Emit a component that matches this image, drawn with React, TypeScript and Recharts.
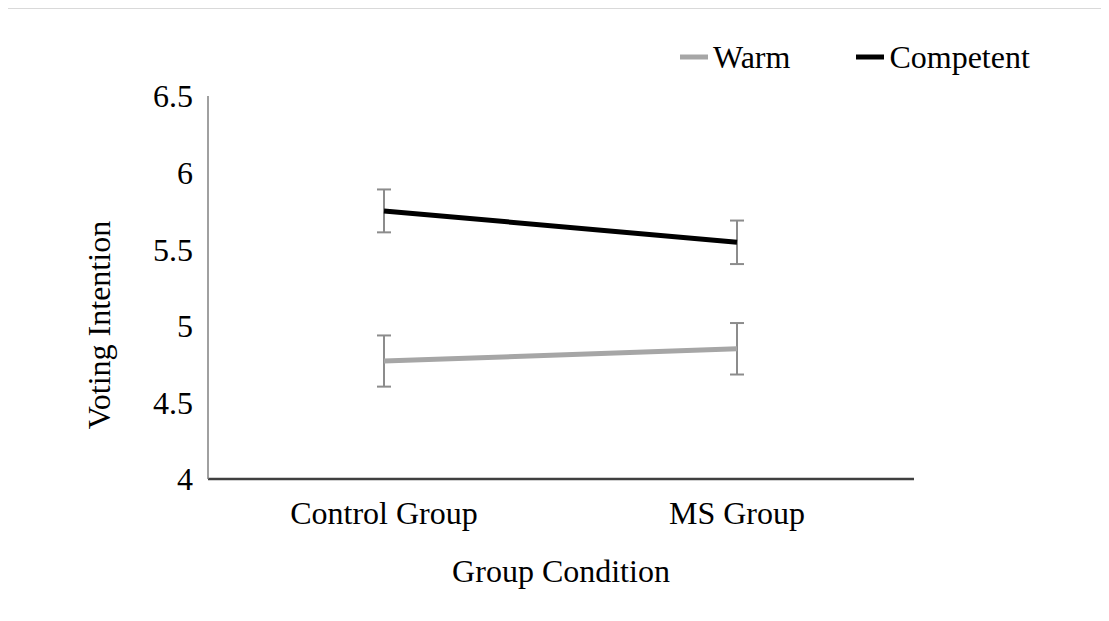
import React from "react";
import { LineChart, Line, XAxis, YAxis, ErrorBar, Legend, Label } from "recharts";

const categories = ["Control Group", "MS Group"];
const seriesNames = ["Warm", "Competent"];
const warmValues = [4.77, 4.85];
const warmErrors = [0.167, 0.168];
const competentValues = [5.75, 5.545];
const competentErrors = [0.14, 0.142];
const yTicks = [4, 4.5, 5, 5.5, 6, 6.5];

const data = categories.map((c, i) => ({
  name: c,
  Warm: warmValues[i],
  warmErr: warmErrors[i],
  Competent: competentValues[i],
  competentErr: competentErrors[i],
}));

const FONT = '"Liberation Serif", "Times New Roman", serif';
const FS = 32;

const LegendContent = (props: any) => {
  const payload = [...(props.payload || [])].sort(
    (a: any, b: any) => seriesNames.indexOf(a.value) - seriesNames.indexOf(b.value)
  );
  return (
    <div style={{ display: "flex", alignItems: "center", fontFamily: FONT, fontSize: FS, color: "#000" }}>
      {payload.map((p: any, i: number) => (
        <div key={i} style={{ display: "flex", alignItems: "center", marginRight: i === 0 ? 66 : 0 }}>
          <svg width={28} height={8} style={{ marginRight: 5 }}>
            <line x1={0} y1={4} x2={28} y2={4} stroke={p.color} strokeWidth={5} />
          </svg>
          <span style={{ lineHeight: "36px" }}>{p.value}</span>
        </div>
      ))}
    </div>
  );
};

export default function App() {
  return (
    <div style={{ position: "relative", width: 1109, height: 621, margin: -8, background: "#fff", overflow: "hidden" }}>
      <div
        style={{
          position: "absolute",
          left: 4,
          top: 8,
          width: 1120,
          height: 630,
          borderLeft: "1px solid #d9d9d9",
          borderTop: "1px solid #d9d9d9",
        }}
      />
      <div style={{ position: "absolute", left: 0, top: 0 }}>
        <LineChart width={1109} height={621} data={data} margin={{ top: 96, right: 195, bottom: 82, left: 148 }}>
          <XAxis
            dataKey="name"
            height={60}
            padding={{ left: 176, right: 177 }}
            axisLine={{ stroke: "#404040", strokeWidth: 2.5 }}
            tickLine={false}
            tickSize={0}
            tickMargin={22}
            tick={{ fontFamily: FONT, fontSize: FS, fill: "#000" }}
          >
            <Label
              content={(p: any) => {
                const vb = p.viewBox;
                return (
                  <text x={vb.x + vb.width / 2} y={582} textAnchor="middle" fontFamily={FONT} fontSize={FS} fill="#000">
                    Group Condition
                  </text>
                );
              }}
            />
          </XAxis>
          <YAxis
            width={60}
            domain={[4, 6.5]}
            ticks={yTicks}
            interval={0}
            axisLine={{ stroke: "#808080", strokeWidth: 1.5 }}
            tickLine={false}
            tickSize={0}
            tickMargin={15}
            tick={{ fontFamily: FONT, fontSize: FS, fill: "#000" }}
          >
            <Label
              content={() => (
                <text
                  x={110}
                  y={325}
                  transform="rotate(-90, 110, 325)"
                  textAnchor="middle"
                  fontFamily={FONT}
                  fontSize={FS}
                  fill="#000"
                >
                  Voting Intention
                </text>
              )}
            />
          </YAxis>
          <Legend
            layout="vertical"
            align="center"
            verticalAlign="middle"
            wrapperStyle={{ top: 39, left: 680, width: 420, height: 36 }}
            content={<LegendContent />}
          />
          <Line
            dataKey="Warm"
            stroke="#a6a6a6"
            strokeWidth={5}
            dot={false}
            activeDot={false}
            isAnimationActive={false}
          >
            <ErrorBar dataKey="warmErr" direction="y" width={7} stroke="#8c8c8c" strokeWidth={2} isAnimationActive={false} />
          </Line>
          <Line
            dataKey="Competent"
            stroke="#000000"
            strokeWidth={5}
            dot={false}
            activeDot={false}
            isAnimationActive={false}
          >
            <ErrorBar dataKey="competentErr" direction="y" width={7} stroke="#8c8c8c" strokeWidth={2} isAnimationActive={false} />
          </Line>
        </LineChart>
      </div>
    </div>
  );
}
